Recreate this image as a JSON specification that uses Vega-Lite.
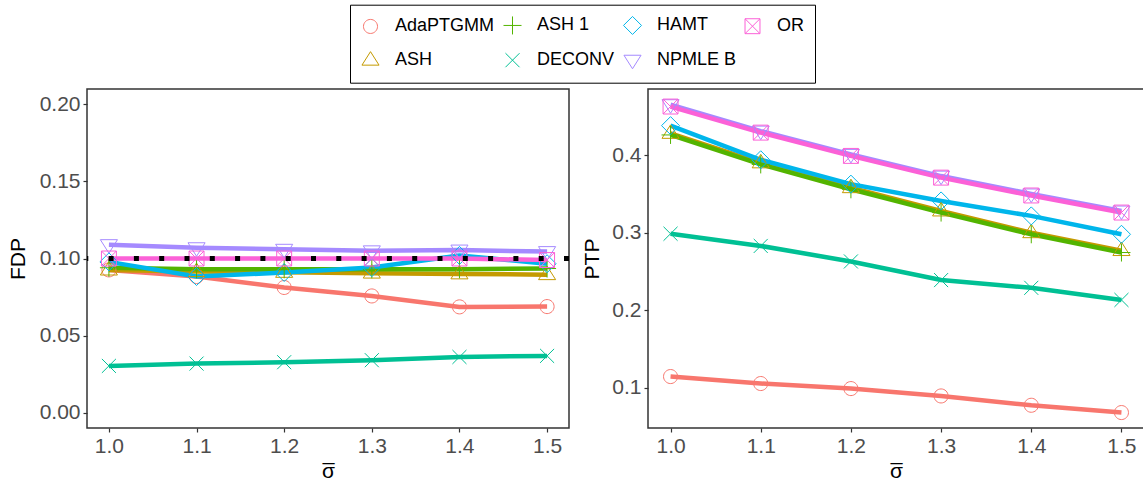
{
  "$schema": "https://vega.github.io/schema/vega-lite/v6.json",
  "background": "white",
  "padding": {"left": 6, "top": 4, "right": 0, "bottom": 0},
  "bounds": "flush",
  "spacing": 79,
  "config": {
    "font": "Liberation Sans",
    "view": {"stroke": "#333333", "strokeWidth": 1.5},
    "axis": {
      "grid": false, "domain": false,
      "tickColor": "#333333", "tickSize": 4, "tickWidth": 1.2,
      "labelFont": "Liberation Sans", "labelFontSize": 21, "labelColor": "#4D4D4D", "labelPadding": 3,
      "titleFont": "Liberation Sans", "titleFontSize": 21, "titleFontWeight": "normal", "titleColor": "black"
    }
  },
  "data": {"values": [
    {"method": "AdaPTGMM", "sigma": 1.0, "fdp": 0.0926, "ptp": 0.1147},
    {"method": "AdaPTGMM", "sigma": 1.1, "fdp": 0.0883, "ptp": 0.1057},
    {"method": "AdaPTGMM", "sigma": 1.2, "fdp": 0.0812, "ptp": 0.0992},
    {"method": "AdaPTGMM", "sigma": 1.3, "fdp": 0.0757, "ptp": 0.0897},
    {"method": "AdaPTGMM", "sigma": 1.4, "fdp": 0.0686, "ptp": 0.0777},
    {"method": "AdaPTGMM", "sigma": 1.5, "fdp": 0.0688, "ptp": 0.0683},
    {"method": "ASH", "sigma": 1.0, "fdp": 0.0925, "ptp": 0.428},
    {"method": "ASH", "sigma": 1.1, "fdp": 0.0915, "ptp": 0.390},
    {"method": "ASH", "sigma": 1.2, "fdp": 0.091, "ptp": 0.358},
    {"method": "ASH", "sigma": 1.3, "fdp": 0.0905, "ptp": 0.328},
    {"method": "ASH", "sigma": 1.4, "fdp": 0.090, "ptp": 0.300},
    {"method": "ASH", "sigma": 1.5, "fdp": 0.0895, "ptp": 0.277},
    {"method": "ASH 1", "sigma": 1.0, "fdp": 0.094, "ptp": 0.426},
    {"method": "ASH 1", "sigma": 1.1, "fdp": 0.093, "ptp": 0.388},
    {"method": "ASH 1", "sigma": 1.2, "fdp": 0.093, "ptp": 0.356},
    {"method": "ASH 1", "sigma": 1.3, "fdp": 0.093, "ptp": 0.326},
    {"method": "ASH 1", "sigma": 1.4, "fdp": 0.093, "ptp": 0.298},
    {"method": "ASH 1", "sigma": 1.5, "fdp": 0.0935, "ptp": 0.2745},
    {"method": "DECONV", "sigma": 1.0, "fdp": 0.0303, "ptp": 0.2987},
    {"method": "DECONV", "sigma": 1.1, "fdp": 0.0318, "ptp": 0.283},
    {"method": "DECONV", "sigma": 1.2, "fdp": 0.0327, "ptp": 0.263},
    {"method": "DECONV", "sigma": 1.3, "fdp": 0.034, "ptp": 0.239},
    {"method": "DECONV", "sigma": 1.4, "fdp": 0.0361, "ptp": 0.229},
    {"method": "DECONV", "sigma": 1.5, "fdp": 0.0368, "ptp": 0.2134},
    {"method": "HAMT", "sigma": 1.0, "fdp": 0.0978, "ptp": 0.438},
    {"method": "HAMT", "sigma": 1.1, "fdp": 0.0883, "ptp": 0.394},
    {"method": "HAMT", "sigma": 1.2, "fdp": 0.0909, "ptp": 0.3626},
    {"method": "HAMT", "sigma": 1.3, "fdp": 0.0941, "ptp": 0.341},
    {"method": "HAMT", "sigma": 1.4, "fdp": 0.102, "ptp": 0.3217},
    {"method": "HAMT", "sigma": 1.5, "fdp": 0.0966, "ptp": 0.298},
    {"method": "NPMLE B", "sigma": 1.0, "fdp": 0.109, "ptp": 0.465},
    {"method": "NPMLE B", "sigma": 1.1, "fdp": 0.107, "ptp": 0.431},
    {"method": "NPMLE B", "sigma": 1.2, "fdp": 0.106, "ptp": 0.401},
    {"method": "NPMLE B", "sigma": 1.3, "fdp": 0.105, "ptp": 0.373},
    {"method": "NPMLE B", "sigma": 1.4, "fdp": 0.1055, "ptp": 0.350},
    {"method": "NPMLE B", "sigma": 1.5, "fdp": 0.1045, "ptp": 0.328},
    {"method": "OR", "sigma": 1.0, "fdp": 0.1, "ptp": 0.4626},
    {"method": "OR", "sigma": 1.1, "fdp": 0.1, "ptp": 0.429},
    {"method": "OR", "sigma": 1.2, "fdp": 0.1, "ptp": 0.399},
    {"method": "OR", "sigma": 1.3, "fdp": 0.1, "ptp": 0.371},
    {"method": "OR", "sigma": 1.4, "fdp": 0.1, "ptp": 0.348},
    {"method": "OR", "sigma": 1.5, "fdp": 0.099, "ptp": 0.326}
  ]},
  "hconcat": [
    {
      "width": 482, "height": 339,
      "layer": [
        {
          "mark": {"type": "line", "strokeWidth": 4.5},
          "encoding": {
            "x": {"field": "sigma", "type": "quantitative", "scale": {"domain": [0.975, 1.525], "nice": false, "zero": false}, "axis": {"values": [1.0, 1.1, 1.2, 1.3, 1.4, 1.5], "format": ".1f", "title": ["_", "σ"], "titleLineHeight": 18, "titlePadding": -14}},
            "y": {"field": "fdp", "type": "quantitative", "scale": {"domain": [-0.01, 0.21], "nice": false, "zero": false}, "axis": {"values": [0, 0.05, 0.1, 0.15, 0.2], "format": ".2f", "title": "FDP", "titlePadding": 11}},
            "stroke": {"field": "method", "type": "nominal", "title": null, "scale": {"domain": ["AdaPTGMM", "ASH", "ASH 1", "DECONV", "HAMT", "NPMLE B", "OR"], "range": ["#F8766D", "#C49A00", "#53B400", "#00C094", "#00B6EB", "#A58AFF", "#FB61D7"]}, "legend": null}
          }
        },
        {
          "mark": {"type": "point", "filled": false, "size": 324, "strokeWidth": 1, "opacity": 1},
          "encoding": {
            "x": {"field": "sigma", "type": "quantitative"},
            "y": {"field": "fdp", "type": "quantitative"},
            "color": {"field": "method", "type": "nominal", "title": null, "scale": {"domain": ["AdaPTGMM", "ASH 1", "HAMT", "OR", "ASH", "DECONV", "NPMLE B"], "range": ["#F8766D", "#53B400", "#00B6EB", "#FB61D7", "#C49A00", "#00C094", "#A58AFF"]},
              "legend": {"title": null, "orient": "none", "legendX": 263, "legendY": -84.3, "columns": 4, "direction": "horizontal", "symbolSize": 324, "symbolStrokeWidth": 1, "labelFont": "Liberation Sans", "labelFontSize": 18, "labelColor": "black", "labelOffset": 15, "columnPadding": 6, "rowPadding": 12, "padding": 11, "strokeColor": "black"}},
            "shape": {"field": "method", "type": "nominal", "title": null, "scale": {"domain": ["AdaPTGMM", "ASH 1", "HAMT", "OR", "ASH", "DECONV", "NPMLE B"], "range": ["M0.78,0A0.78,0.78,0,1,1,-0.78,0A0.78,0.78,0,1,1,0.78,0Z", "M-1,0H1M0,-1V1", "M0,-1L1,0L0,1L-1,0Z", "M-0.83,-0.83H0.83V0.83H-0.83ZM-0.83,-0.83L0.83,0.83M-0.83,0.83L0.83,-0.83", "M0,-0.95L0.95,0.55L-0.95,0.55Z", "M-0.78,-0.78L0.78,0.78M-0.78,0.78L0.78,-0.78", "M0,0.95L0.95,-0.55L-0.95,-0.55Z"]},
              "legend": {"title": null, "orient": "none", "legendX": 263, "legendY": -84.3, "columns": 4, "direction": "horizontal", "symbolSize": 324, "symbolStrokeWidth": 1, "labelFont": "Liberation Sans", "labelFontSize": 18, "labelColor": "black", "labelOffset": 15, "columnPadding": 6, "rowPadding": 12, "padding": 11, "strokeColor": "black"}}
          }
        },
        {
          "data": {"values": [{"target": 0.1}]},
          "mark": {"type": "rule", "color": "black", "strokeWidth": 5, "strokeDash": [5, 20.3], "strokeCap": "butt"},
          "encoding": {"y": {"field": "target", "type": "quantitative", "axis": {"values": [0, 0.05, 0.1, 0.15, 0.2], "format": ".2f", "title": "FDP", "titlePadding": 11}}}
        }
      ]
    },
    {
      "width": 496, "height": 339,
      "layer": [
        {
          "mark": {"type": "line", "strokeWidth": 4.5},
          "encoding": {
            "x": {"field": "sigma", "type": "quantitative", "scale": {"domain": [0.975, 1.525], "nice": false, "zero": false}, "axis": {"values": [1.0, 1.1, 1.2, 1.3, 1.4, 1.5], "format": ".1f", "title": ["_", "σ"], "titleLineHeight": 18, "titlePadding": -14}},
            "y": {"field": "ptp", "type": "quantitative", "scale": {"domain": [0.0484, 0.4852], "nice": false, "zero": false}, "axis": {"values": [0.1, 0.2, 0.3, 0.4], "format": ".1f", "title": "PTP", "titlePadding": 9}},
            "stroke": {"field": "method", "type": "nominal", "title": null, "scale": {"domain": ["AdaPTGMM", "ASH", "ASH 1", "DECONV", "HAMT", "NPMLE B", "OR"], "range": ["#F8766D", "#C49A00", "#53B400", "#00C094", "#00B6EB", "#A58AFF", "#FB61D7"]}, "legend": null}
          }
        },
        {
          "mark": {"type": "point", "filled": false, "size": 324, "strokeWidth": 1, "opacity": 1},
          "encoding": {
            "x": {"field": "sigma", "type": "quantitative"},
            "y": {"field": "ptp", "type": "quantitative"},
            "color": {"field": "method", "type": "nominal", "title": null},
            "shape": {"field": "method", "type": "nominal", "title": null}
          }
        }
      ]
    }
  ]
}
